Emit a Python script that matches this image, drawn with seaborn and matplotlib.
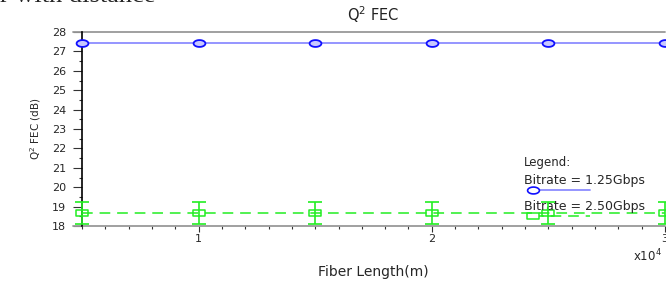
import matplotlib
matplotlib.use("Agg")
import matplotlib.pyplot as plt
import seaborn as sns
import pandas as pd
import numpy as np
from matplotlib.ticker import MultipleLocator, FuncFormatter
from matplotlib.lines import Line2D
from matplotlib.path import Path

# ---- data ----
fiber_length = [5000, 10000, 15000, 20000, 25000, 30000]
q2_125 = [27.45, 27.45, 27.45, 27.45, 27.45, 27.45]
q2_250 = [18.68, 18.68, 18.68, 18.68, 18.68, 18.68]
err_250 = [0.58, 0.58, 0.58, 0.58, 0.58, 0.58]
series_labels = ["Bitrate = 1.25Gbps", "Bitrate = 2.50Gbps"]

df = pd.DataFrame({
    "length": fiber_length * 2,
    "q2": q2_125 + q2_250,
    "series": [series_labels[0]] * 6 + [series_labels[1]] * 6,
})

sns.set_style("white")
plt.rcParams["font.family"] = ["DejaVu Sans"]

# flattened marker shapes (the reference is horizontally stretched)
_t = np.linspace(0, 2 * np.pi, 61)
ellipse = Path(np.column_stack([np.cos(_t), 0.58 * np.sin(_t)]), closed=True)
rect = Path([(-1, -0.62), (1, -0.62), (1, 0.62), (-1, 0.62), (-1, -0.62)], closed=True)

fig = plt.figure(figsize=(6.66, 2.85), dpi=100)
ax = fig.add_axes([82 / 666, 59 / 285, 583 / 666, 194 / 285])

blue_line = "#8c8cff"
blue_mark = "#1010ff"
green = "#22ee22"

sns.lineplot(data=df[df.series == series_labels[0]], x="length", y="q2", ax=ax,
             color=blue_line, lw=1.3, legend=False, clip_on=False, zorder=3)
l1 = ax.lines[-1]
l1.set_marker(ellipse)
l1.set_markersize(8.5)
l1.set_markeredgecolor(blue_mark)
l1.set_markerfacecolor("#c8c8ff")
l1.set_markeredgewidth(1.3)

sns.lineplot(data=df[df.series == series_labels[1]], x="length", y="q2", ax=ax,
             color=green, lw=1.1, legend=False, clip_on=False, zorder=3)
l2 = ax.lines[-1]
l2.set_dashes([7, 4.5])
l2.set_marker(rect)
l2.set_markersize(8)
l2.set_markeredgecolor(green)
l2.set_markerfacecolor("none")
l2.set_markeredgewidth(1.1)

ax.errorbar(fiber_length, q2_250, yerr=err_250, fmt="none", ecolor=green,
            elinewidth=1.2, capsize=5, capthick=1.2, clip_on=False, zorder=4)

ax.set_xlim(5000, 30000)
ax.set_ylim(18, 28)

ax.xaxis.set_major_locator(MultipleLocator(10000))
ax.xaxis.set_minor_locator(MultipleLocator(1000))
ax.xaxis.set_major_formatter(FuncFormatter(lambda v, p: f"{v/1e4:g}"))
ax.yaxis.set_major_locator(MultipleLocator(1))
ax.yaxis.set_minor_locator(MultipleLocator(0.5))

ax.tick_params(axis="both", which="major", direction="out", width=0.8,
               color="#333333", labelsize=8, bottom=True, left=True)
ax.tick_params(axis="y", which="major", length=6.5, pad=5)
ax.tick_params(axis="x", which="major", length=4, pad=2)
ax.tick_params(axis="both", which="minor", direction="out", length=2.5, width=0.8,
               color="#333333", bottom=True, left=True)

for s in ["top", "right", "bottom"]:
    ax.spines[s].set_visible(False)
ax.spines["left"].set_color("black")
ax.spines["left"].set_linewidth(1.2)

# gray frame lines at y limits, extending slightly left
for yy in (0.0, 1.0):
    ax.plot([-0.016, 1.0], [yy, yy], transform=ax.transAxes, color="#999999",
            lw=1.3, clip_on=False, zorder=1)

ax.set_xlabel("Fiber Length(m)", fontsize=10, labelpad=15)
ax.set_ylabel("Q$^2$ FEC (dB)", fontsize=7.5, labelpad=6)
ax.set_title("Q$^2$ FEC", fontsize=10.5, pad=8, color="#222222")

fig.text(647 / 666, 1 - 256 / 285, "x10$^4$", fontsize=8.5, ha="center", va="center")
fig.text(0.0, 1 - 2.0 / 285, "r with distance", fontsize=19,
         family="Liberation Serif", ha="left", va="baseline")

# custom legend
lx = 0.758
ax.text(lx, 0.325, "Legend:", transform=ax.transAxes, fontsize=8.5, va="center")
ax.text(lx, 0.232, series_labels[0], transform=ax.transAxes, fontsize=9, va="center")
ax.text(lx, 0.098, series_labels[1], transform=ax.transAxes, fontsize=9, va="center")
ax.add_line(Line2D([0.774, 0.871], [0.186, 0.186], transform=ax.transAxes,
                   color=blue_line, lw=1.3))
ax.add_line(Line2D([0.774], [0.186], transform=ax.transAxes, marker=ellipse,
                   markersize=8.5, markeredgecolor=blue_mark,
                   markerfacecolor="white", markeredgewidth=1.2))
ax.add_line(Line2D([0.774, 0.871], [0.052, 0.052], transform=ax.transAxes,
                   color=green, lw=1.1, dashes=[7, 4.5]))
ax.add_line(Line2D([0.774], [0.052], transform=ax.transAxes, marker=rect,
                   markersize=8, markeredgecolor=green, markerfacecolor="white",
                   markeredgewidth=1.1))

fig.savefig("out.png", dpi=100)
